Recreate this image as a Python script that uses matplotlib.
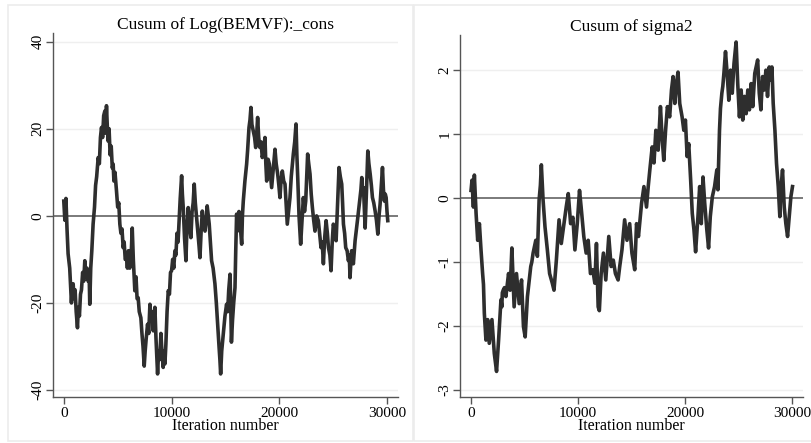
import matplotlib
matplotlib.use("Agg")
import matplotlib.pyplot as plt
from matplotlib.patches import Rectangle

plt.rcParams['font.family'] = ['Liberation Serif', 'DejaVu Serif']

# cusum of Log(BEMVF):_cons  (iteration, value)
iter_cons = [0, 100, 200, 300, 400, 550, 710, 800, 870, 950, 1050, 1150, 1270, 1350, 1450,
             1550, 1640, 1750, 1850, 1950, 2050, 2150, 2260, 2350, 2410, 2500, 2600, 2720,
             2850, 2950, 3050, 3190, 3300, 3400, 3500, 3600, 3700, 3810, 3880, 3960, 4030,
             4110, 4200, 4300, 4400, 4500, 4580, 4650, 4750, 4890, 5000, 5100, 5200, 5300,
             5400, 5510, 5600, 5700, 5820, 5900, 6000, 6120, 6250, 6350, 6450, 6590, 6700,
             6800, 6900, 7000, 7150, 7250, 7350, 7460, 7550, 7650, 7770, 7880, 7990, 8100,
             8200, 8300, 8380, 8450, 8550, 8620, 8700, 8800, 8900, 9010, 9100, 9220, 9300,
             9380, 9470, 9580, 9690, 9800, 9900, 10000, 10100, 10200, 10310, 10400, 10500,
             10600, 10680, 10800, 10930, 11000, 11080, 11200, 11330, 11420, 11540, 11650,
             11790, 11900, 12000, 12100, 12200, 12320, 12450, 12550, 12630, 12750, 12850,
             12950, 13100, 13200, 13300, 13400, 13490, 13600, 13710, 13850, 14020, 14150,
             14270, 14400, 14480, 14550, 14650, 14800, 14950, 15100, 15200, 15300, 15420,
             15480, 15550, 15650, 15760, 15880, 15950, 16030, 16100, 16180, 16250, 16330,
             16420, 16500, 16570, 16650, 16800, 16960, 17050, 17180, 17270, 17360, 17450,
             17580, 17700, 17800, 17900, 17980, 18080, 18190, 18300, 18410, 18550, 18660,
             18740, 18820, 18950, 19070, 19180, 19280, 19400, 19500, 19590, 19700, 19840,
             19950, 20050, 20150, 20270, 20400, 20520, 20620, 20730, 20850, 20980, 21100,
             21290, 21420, 21540, 21620, 21700, 21820, 21970, 22100, 22220, 22330, 22440,
             22530, 22620, 22720, 22840, 22950, 23060, 23180, 23300, 23450, 23610, 23730,
             23860, 23970, 24080, 24200, 24330, 24450, 24550, 24680, 24790, 24900, 25000,
             25130, 25260, 25400, 25530, 25650, 25780, 25860, 25940, 26050, 26150, 26280,
             26400, 26480, 26550, 26620, 26700, 26860, 27020, 27150, 27270, 27380, 27480,
             27560, 27640, 27720, 27800, 27870, 27950, 28080, 28200, 28300, 28420, 28530,
             28630, 28750, 28880, 29000, 29130, 29240, 29340, 29450, 29560, 29650, 29740,
             29820, 29900, 29980, 30050]
cusum_cons = [3.4, -1, 4, -3, -8.7, -12, -20, -16, -15.6, -19, -17, -22, -25.7, -21, -23,
              -18, -17, -13, -15, -10.3, -14, -12, -15, -13, -20.3, -12, -8, -1.9, 2, 7, 9,
              13.4, 12, 18, 20.3, 18, 23, 24.1, 19, 25.3, 21, 17.2, 20, 14, 16, 11, 11.9, 8,
              10, 5.7, 2, 3, -1.9, -4, -3, -7.3, -6, -10, -9.6, -12, -8, -12, -9, -2.8, -10,
              -17.2, -14, -19, -18.8, -22, -23.4, -27, -30, -34.5, -31, -28, -24.9, -27,
              -20.3, -24, -22, -26.4, -23, -21, -28, -32, -36.3, -31, -33, -27, -31, -34.8,
              -31, -34, -29.5, -22, -17.2, -18, -13, -12.6, -10, -12, -8, -9, -4, -6, -1.9,
              4, 9.2, 5, 1.9, -5, -10.3, -3, 1.9, -2, -5, 1, 3, 7.3, 3, -0.4, -4, -7, -9.6,
              -3, 1.1, -2, -3.5, -1, 2.3, 0, -1.9, -6, -10.3, -12, -15.6, -20, -24.9, -30,
              -33, -36.3, -31, -27, -23, -20.3, -22, -17, -13.4, -20, -29, -24, -20, -16.5,
              -8, 0.4, -2, -3.4, 1, -1, -4, -6.5, 0, 3.4, 8, 11.9, 15, 20.3, 22, 24.9, 21,
              19.5, 18, 15.7, 19, 22.6, 18, 15.7, 17, 13.4, 15, 18, 12, 8, 13, 11.9, 9, 6.5,
              10, 13, 15.3, 12, 9.6, 7, 4.2, 8, 10.3, 8, 7.3, 3, -1.9, 1, 4.2, 9, 14.2, 17,
              21.1, 14, 8.8, 0, -6.5, -1, 4.2, 1, 3.4, 9, 14.2, 12, 9.6, 5, 1.9, -1, -3.5,
              0, -1.1, -4, -7.3, -6, -11, -5, -1.1, -4, -7.3, -9, -12.6, -6, -1.9, -3, -5.7,
              3, 11.1, 9, 7.3, 3, -1.9, -4, -7.3, -8, -10.3, -9, -14.2, -11, -8, -11, -5.7,
              -3, -0.4, 2, 4.2, 6, 8.8, 5, 6.5, 2, -2.8, 6, 14.9, 12, 9.6, 7, 4.2, 3, 1.1,
              -1, -4.2, 0, 2.7, 7, 11.1, 6, 3.4, 5, 4.2, 1, -1.1]

# cusum of sigma2
iter_sig = [30, 120, 250, 340, 500, 650, 810, 960, 1110, 1190, 1270, 1420, 1580, 1730, 1980,
            2200, 2410, 2600, 2820, 2900, 2950, 3030, 3150, 3280, 3530, 3680, 3840, 4050,
            4270, 4520, 4740, 4920, 5080, 5290, 5450, 5600, 5700, 5820, 6070, 6220, 6380,
            6500, 6590, 6750, 6930, 7150, 7360, 7610, 7770, 7990, 8240, 8450, 8700, 8910,
            9100, 9320, 9530, 9720, 9940, 10150, 10300, 10550, 10770, 10960, 11170, 11390,
            11580, 11730, 11890, 12000, 12170, 12380, 12600, 12880, 13100, 13300, 13500,
            13750, 13900, 14110, 14360, 14580, 14830, 15040, 15300, 15470, 15650, 15940,
            16160, 16400, 16560, 16710, 16930, 17100, 17270, 17490, 17700, 17850, 18010,
            18180, 18350, 18560, 18730, 18880, 19040, 19190, 19340, 19500, 19720, 19880,
            20030, 20190, 20340, 20520, 20670, 20830, 20980, 21200, 21360, 21510, 21670,
            21830, 22030, 22190, 22350, 22540, 22750, 22850, 22960, 23060, 23210, 23300,
            23430, 23520, 23620, 23770, 23920, 24080, 24240, 24400, 24560, 24760, 24910,
            25070, 25230, 25380, 25540, 25700, 25850, 26000, 26160, 26310, 26500, 26770,
            26920, 27070, 27230, 27380, 27540, 27690, 27850, 28000, 28100, 28220, 28380,
            28530, 28690, 28840, 28930, 29090, 29250, 29400, 29560, 29720, 29870, 30020]
cusum_sig = [0.12, 0.28, -0.14, 0.36, -0.24, -0.66, -0.4, -0.81, -1.18, -1.35, -1.8, -2.22,
             -1.9, -2.27, -1.9, -2.43, -2.71, -2.22, -1.59, -1.7, -1.48, -1.44, -1.4, -1.54,
             -1.18, -1.44, -0.78, -1.7, -1.18, -1.65, -1.28, -2.01, -2.17, -1.54, -1.3,
             -1.07, -1.0, -0.86, -0.66, -0.91, -0.03, 0.2, 0.52, -0.03, -0.45, -0.81, -1.18,
             -1.33, -1.44, -0.97, -0.34, -0.71, -0.4, -0.14, 0.07, -0.4, -0.3, -0.81, -0.4,
             0.12, -0.14, -0.6, -0.86, -0.66, -1.18, -1.12, -1.33, -0.71, -1.7, -1.76,
             -1.18, -0.86, -1.28, -0.6, -1.07, -0.97, -1.18, -1.28, -1.07, -0.81, -0.34,
             -0.66, -0.4, -0.86, -1.12, -0.4, -0.6, -0.08, 0.18, -0.14, 0.18, 0.44, 0.8,
             0.55, 1.06, 0.75, 1.43, 0.96, 0.59, 1.06, 1.43, 1.27, 1.69, 1.9, 1.48, 1.79,
             1.97, 1.48, 1.27, 1.06, 1.22, 0.65, 0.85, 0.28, -0.24, -0.5, -0.84, -0.29,
             0.18, -0.4, 0.33, -0.08, -0.5, -0.78, -0.29, 0.02, 0.18, 0.3, 0.44, 0.13, 1.06,
             1.4, 1.64, 1.75, 1.95, 2.29, 1.95, 1.53, 2.0, 1.64, 2.1, 2.44, 1.79, 1.27,
             1.69, 1.22, 1.59, 1.32, 1.69, 1.38, 1.79, 1.43, 1.95, 2.16, 1.64, 1.38, 1.9,
             1.69, 2.0, 1.59, 2.05, 1.85, 2.05, 1.48, 1.06, 0.54, 0.18, -0.29, 0.13, 0.44,
             -0.14, -0.4, -0.6, -0.29, 0.02, 0.18]

titles = ['Cusum of Log(BEMVF):_cons', 'Cusum of sigma2']
xticks = [0, 10000, 20000, 30000]
yticks_cons = [-40, -20, 0, 20, 40]
yticks_sig = [-3, -2, -1, 0, 1, 2]

fig = plt.figure(figsize=(8.11, 4.43), dpi=100)

# light panel frames like stata's graph combine
for x0, w in [(8 / 811, 405 / 811), (414 / 811, 400 / 811)]:
    fig.add_artist(Rectangle((x0, 2 / 443), w, 436 / 443, transform=fig.transFigure,
                             fill=False, edgecolor='#ececec', lw=1.2))

ax1 = fig.add_axes([53 / 811, 46 / 443, 345 / 811, 364 / 443])
ax2 = fig.add_axes([460 / 811, 46 / 443, 343 / 811, 362 / 443])

panels = [(ax1, iter_cons, cusum_cons, yticks_cons, (-41.6, 42)),
          (ax2, iter_sig, cusum_sig, yticks_sig, (-3.11, 2.55))]

for i, (ax, xs, ys, yt, yl) in enumerate(panels):
    for t in yt:
        if t != 0:
            ax.axhline(t, color='#efefef', lw=1, zorder=0)
    ax.axhline(0, color='#7a7a7a', lw=1.4, zorder=1)
    ax.plot(xs, ys, color='#2e2e2e', lw=2.6, zorder=2)
    ax.set_xlim(-1000, 31000)
    ax.set_ylim(*yl)
    ax.set_xticks(xticks)
    ax.set_yticks(yt)
    ax.set_yticklabels([str(t) for t in yt], rotation=90, va='center')
    ax.tick_params(direction='out', length=5, width=1, color='#555555', labelsize=11)
    ax.tick_params(axis='x', pad=2)
    ax.tick_params(axis='y', pad=1)
    ax.set_xlabel('Iteration number', fontsize=11.5, labelpad=-1)
    ax.set_title(titles[i], fontsize=12.5, pad=1)
    for s in ['top', 'right']:
        ax.spines[s].set_visible(False)
    for s in ['left', 'bottom']:
        ax.spines[s].set_color('#555555')
        ax.spines[s].set_linewidth(1)

fig.savefig('out.png', dpi=100)
